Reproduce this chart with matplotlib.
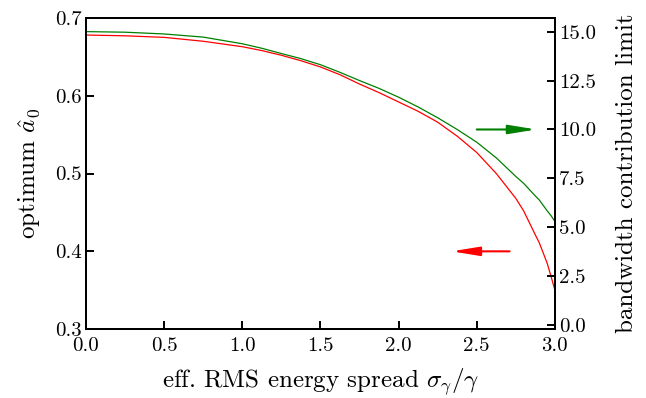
#!/usr/bin/env python3
"""Optimum a0 and bandwidth contribution limit vs. effective RMS energy spread"""
import matplotlib
matplotlib.use('Agg')
import matplotlib.pyplot as plt

# data
sigma = [0.0, 0.25, 0.5, 0.75, 1.0, 1.125, 1.25, 1.375, 1.5, 1.625, 1.75, 1.875,
         2.0, 2.125, 2.25, 2.375, 2.5, 2.625, 2.75, 2.8, 2.875, 2.9, 2.95, 2.975, 3.0]
a0_opt = [0.678, 0.677, 0.675, 0.670, 0.663, 0.658, 0.652, 0.645, 0.637, 0.627,
          0.615, 0.604, 0.592, 0.580, 0.566, 0.548, 0.527, 0.500, 0.468, 0.452,
          0.421, 0.411, 0.385, 0.368, 0.350]
bw_limit = [15.0, 14.97, 14.88, 14.72, 14.38, 14.15, 13.88, 13.62, 13.31, 12.92,
            12.5, 12.1, 11.65, 11.15, 10.6, 10.0, 9.35, 8.55, 7.6, 7.25,
            6.6, 6.4, 5.85, 5.6, 5.3]

x_ticks = [0.0, 0.5, 1.0, 1.5, 2.0, 2.5, 3.0]
left_ticks = [0.3, 0.4, 0.5, 0.6, 0.7]
right_ticks = [0.0, 2.5, 5.0, 7.5, 10.0, 12.5, 15.0]

plt.rcParams['font.family'] = 'serif'
plt.rcParams['font.serif'] = ['cmr10']
plt.rcParams['mathtext.fontset'] = 'cm'
plt.rcParams['axes.formatter.use_mathtext'] = True
plt.rcParams['axes.unicode_minus'] = False

fig = plt.figure(figsize=(6.46, 3.98), dpi=100)
ax = fig.add_axes([0.133, 0.173, 0.726, 0.782])
ax2 = ax.twinx()

ax.plot(sigma, a0_opt, color='red', lw=0.9)
ax2.plot(sigma, bw_limit, color='green', lw=0.9)

# arrows pointing to the matching axis
arrow_style = '-|>,head_length=1.1,head_width=0.18'
ax.annotate('', xy=(2.34, 0.4), xytext=(2.71, 0.4),
            arrowprops=dict(arrowstyle=arrow_style, color='red', lw=1.5,
                            mutation_scale=15, shrinkA=0, shrinkB=0))
ax2.annotate('', xy=(2.88, 10.0), xytext=(2.5, 10.0),
             arrowprops=dict(arrowstyle=arrow_style, color='green', lw=1.5,
                             mutation_scale=15, shrinkA=0, shrinkB=0))

ax.set_xlim(0, 3.0)
ax.set_ylim(0.3, 0.7)
ax2.set_ylim(-0.2, 15.7)
ax.set_xticks(x_ticks)
ax.set_yticks(left_ticks)
ax2.set_yticks(right_ticks)
ax.set_xticklabels([f'{v:.1f}' for v in x_ticks])
ax.set_yticklabels([f'{v:.1f}' for v in left_ticks])
ax2.set_yticklabels([f'{v:.1f}' for v in right_ticks])

for a in (ax, ax2):
    a.tick_params(direction='in', length=6, width=1.4, labelsize=15, pad=3)
    for sp in a.spines.values():
        sp.set_linewidth(1.4)
ax.tick_params(top=False, right=False)
ax.tick_params(axis='x', pad=6)

ax.set_xlabel(r'eff. RMS energy spread $\sigma_\gamma/\gamma$', fontsize=18, labelpad=8)
ax.set_ylabel(r'optimum $\hat{a}_0$', fontsize=18, labelpad=9)
ax2.set_ylabel('bandwidth contribution limit', fontsize=18, labelpad=14)

plt.savefig('out.png', dpi=100)
plt.close()
